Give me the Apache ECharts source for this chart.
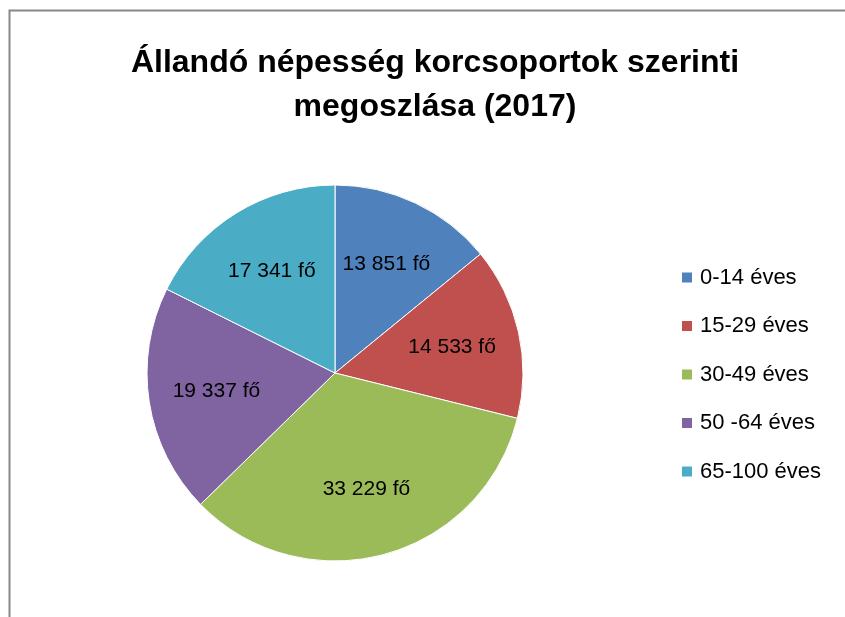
<!DOCTYPE html>
<html>
<head>
<meta charset="utf-8">
<script src="https://cdn.jsdelivr.net/npm/echarts@6/dist/echarts.min.js"></script>
<style>
  html, body { margin: 0; padding: 0; background: #fff; }
  #chart { width: 845px; height: 617px; }
</style>
</head>
<body>
<div id="chart"></div>
<script>
// korcsoportok es letszamok
const categories = ['0-14 éves', '15-29 éves', '30-49 éves', '50 -64 éves', '65-100 éves'];
const values = [13851, 14533, 33229, 19337, 17341];
const colors = ['#4F81BD', '#C0504D', '#9BBB59', '#8064A2', '#4BACC6'];
const titleText = 'Állandó népesség korcsoportok szerinti\nmegoszlása (2017)';

const fontFam = '"Liberation Sans", Arial, sans-serif';

// "13 851 fő" formatum
const fmt = (v) => String(v).replace(/\B(?=(\d{3})+(?!\d))/g, ' ') + ' fő';

const pieData = categories.map((name, i) => ({
  name: name,
  value: values[i],
  itemStyle: { color: colors[i] }
}));

const chart = echarts.init(document.getElementById('chart'));
chart.setOption({
  animation: false,
  backgroundColor: '#fff',
  color: colors,
  title: {
    text: titleText,
    left: 430,
    top: 36,
    textAlign: 'center',
    textStyle: {
      fontFamily: fontFam,
      fontWeight: 'bold',
      fontSize: 32,
      lineHeight: 44,
      color: '#000'
    }
  },
  legend: {
    orient: 'vertical',
    left: 675,
    top: 261,
    itemWidth: 12,
    itemHeight: 12,
    itemGap: 25.5,
    icon: 'rect',
    data: categories,
    textStyle: { fontFamily: fontFam, fontSize: 22, lineHeight: 23, color: '#000', padding: [0, 0, 0, 2] }
  },
  graphic: [{
    type: 'rect',
    shape: { x: 9.5, y: 10.5, width: 900, height: 700 },
    style: { fill: 'none', stroke: '#888', lineWidth: 2 },
    silent: true
  }],
  series: [
    {
      type: 'pie',
      center: [335, 373],
      radius: [0, 188],
      startAngle: 90,
      clockwise: true,
      label: { show: false },
      labelLine: { show: false },
      itemStyle: { borderColor: '#fff', borderWidth: 1 },
      emphasis: { disabled: true },
      data: pieData
    },
    {
      // csak a cimkek, atlatszo gyuru
      type: 'pie',
      center: [335, 373],
      radius: [46, 188],
      startAngle: 90,
      clockwise: true,
      silent: true,
      legendHoverLink: false,
      itemStyle: { color: 'rgba(0,0,0,0)' },
      label: {
        show: true,
        position: 'inside',
        formatter: (p) => fmt(p.value),
        fontFamily: fontFam,
        fontSize: 21,
        color: '#000'
      },
      labelLine: { show: false },
      emphasis: { disabled: true },
      data: categories.map((name, i) => ({ name: name, value: values[i] }))
    }
  ]
});
</script>
</body>
</html>
